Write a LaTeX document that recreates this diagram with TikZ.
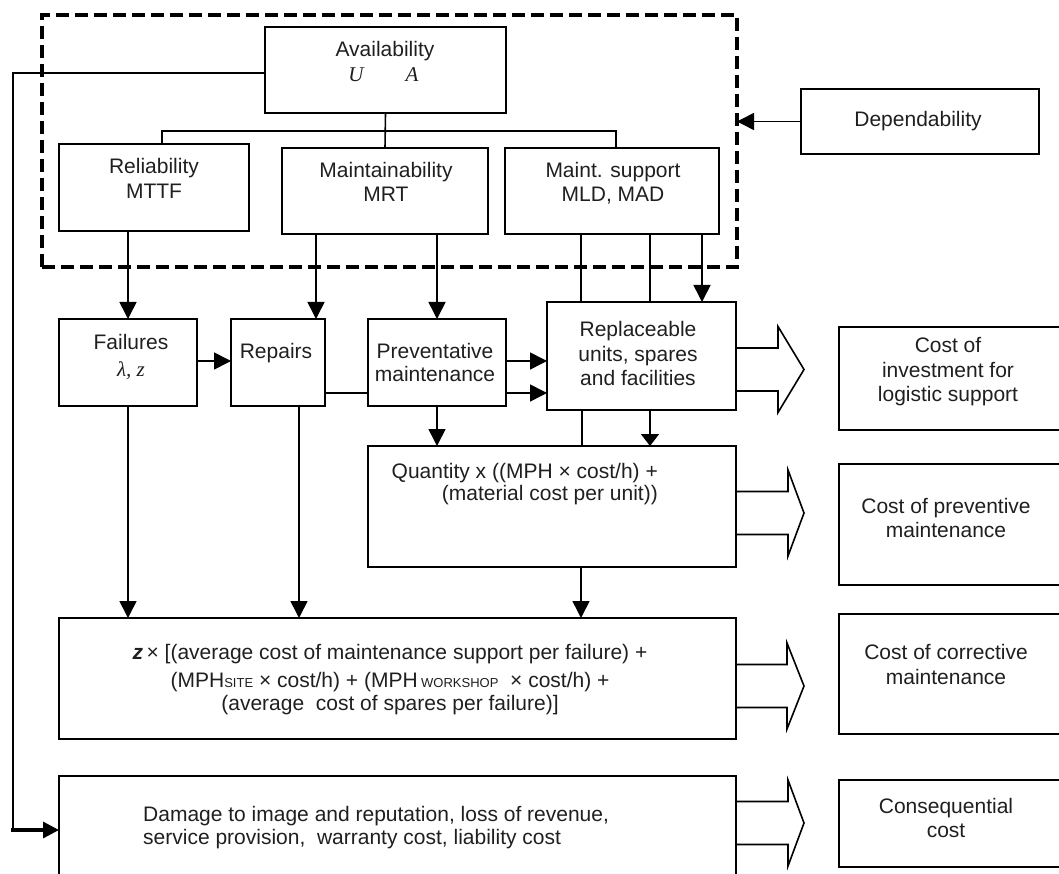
\documentclass[tikz,border=0pt]{standalone}
\usepackage{fontspec}
\setmainfont{Liberation Sans}
\newfontfamily\seriffam{Liberation Serif}
\usetikzlibrary{arrows.meta,calc}
\newcommand\subtxt[1]{{\fontsize{13}{13}\selectfont #1}}
\newcommand\bx[5]{\node[box,minimum width={#4-#2},minimum height={#5-#3}] (#1) at ({(#2+#4)/2},{(#3+#5)/2}) {};}
\newcommand\tx[4]{\node[txt,anchor=base] (#1) at (#2,#3) {#4};}
\newcommand\barrow[3]{%
  \pgfmathsetmacro\ya{#2-21.5}\pgfmathsetmacro\yb{#2+21.5}%
  \pgfmathsetmacro\yc{#2-43}\pgfmathsetmacro\yd{#2+43}%
  \draw[ln,line join=miter] (#1.east |- 0,\ya) -- (#3,\ya) -- (#3,\yc) -- (804,#2) -- (#3,\yd) -- (#3,\yb) -- (#1.east |- 0,\yb);}
\begin{document}
\begin{tikzpicture}[x=1pt,y=-1pt,
  box/.style={draw,line width=1.7pt,outer sep=0pt,inner sep=0pt},
  dbox/.style={draw,line width=3.3pt,dash pattern=on 13pt off 6pt,outer sep=0pt,inner sep=0pt},
  txt/.style={inner sep=0pt,font=\fontsize{21}{25}\selectfont,text=black!88},
  ln/.style={line width=1.6pt},
  arr/.style={-{Triangle[length=17pt,width=17pt]}},
  sarr/.style={-{Triangle[length=12pt,width=18pt]}}]
\useasboundingbox (0,0) rectangle (1059,874);
\clip (0,0) rectangle (1059,874);

% dashed frame
\node[dbox,minimum width=695,minimum height=252] (dash) at (389.5,141) {};

% boxes
\bx{avail}{265}{27}{506}{113}
\bx{rel}{59}{144}{249}{231}
\bx{mnt}{282}{148}{488}{234}
\bx{msup}{505}{148}{719}{234}
\bx{dep}{801}{89}{1039}{154}
\bx{fail}{59}{319}{197}{406}
\bx{rep}{231}{319}{325}{406}
\bx{prev}{368}{319}{506}{406}
\bx{repl}{547}{302}{736}{410}
\bx{qty}{368}{446}{736}{567}
\bx{corr}{59}{618}{736}{739}
\bx{dmg}{59}{776}{736}{900}
\bx{cinv}{839}{327}{1080}{430}
\bx{cprev}{839}{464}{1080}{585}
\bx{ccorr}{839}{614}{1080}{734}
\bx{ccons}{839}{780}{1080}{867}

% texts
\tx{t1}{385}{57}{Availability}
\tx{t2}{356}{82}{\seriffam\itshape U}
\tx{t3}{412}{82}{\seriffam\itshape A}
\tx{t4}{154}{174}{Reliability}
\tx{t5}{154}{199}{MTTF}
\tx{t6}{386}{178}{Maintainability}
\tx{t7}{386}{202}{MRT}
\tx{t8}{613}{178}{Maint. support}
\tx{t9}{613}{202}{MLD, MAD}
\tx{t10}{918}{127}{Dependability}
\tx{t11}{131}{349}{Failures}
\tx{t12}{131}{376}{\seriffam\itshape λ, z}
\tx{t13}{276}{358}{Repairs}
\tx{t14}{435}{358}{Preventative}
\tx{t15}{435}{381}{maintenance}
\tx{t16}{638}{336}{Replaceable}
\tx{t17}{638}{361}{units, spares}
\tx{t18}{638}{385}{and facilities}
\node[txt,anchor=base east] (t19) at (658,478) {Quantity x ((MPH × cost/h) +};
\node[txt,anchor=base east] (t20) at (658,500) {(material cost per unit))};
\tx{t21}{390}{659}{\textbf{\textit{z}}\,× [(average cost of maintenance support per failure) +}
\tx{t22}{390}{687}{(MPH\subtxt{SITE} × cost/h) + (MPH\,\subtxt{WORKSHOP}\ \ × cost/h) +}
\tx{t23}{390}{710}{(average\ \ cost of spares per failure)]}
\node[txt,anchor=base west] (t24) at (143,821) {Damage to image and reputation, loss of revenue,};
\node[txt,anchor=base west] (t25) at (143,844) {service provision,\ \ warranty cost, liability cost};
\tx{t26}{948}{352}{Cost of}
\tx{t27}{948}{377}{investment for}
\tx{t28}{948}{401}{logistic support}
\tx{t29}{946}{513}{Cost of preventive}
\tx{t30}{946}{537}{maintenance}
\tx{t31}{946}{659}{Cost of corrective}
\tx{t32}{946}{684}{maintenance}
\tx{t33}{946}{813}{Consequential}
\tx{t34}{946}{837}{cost}

% tree
\coordinate (jl) at (162,131);
\coordinate (jr) at (616,131);
\draw[ln] (rel.north -| jl) -- (jl) -- (jr) -- (msup.north -| jr);
\draw[ln] (avail.south) -- (mnt.north);

% dependability
\draw[ln,arr] (dep.west) -- (dep.west -| dash.east);

% feedback
\coordinate (fb1) at (13,73);
\coordinate (fb2) at (13,830);
\coordinate (fb3) at (11,830);
\draw[ln] (avail.west |- fb1) -- (fb1) -- (fb2);
\draw[line width=3.2pt,-{Triangle[length=16pt,width=16pt]}] (fb3) -- (dmg.west |- fb3);

% down connectors
\draw[ln,arr] (fail.north |- rel.south) -- (fail.north);
\draw[ln,arr] (mnt.south -| 316,0) -- (rep.north -| 316,0);
\draw[ln,arr] (mnt.south -| prev.north) -- (prev.north);
\draw[ln] (msup.south -| 581,0) -- (repl.north -| 581,0);
\draw[ln] (msup.south -| 650,0) -- (repl.north -| 650,0);
\draw[ln,arr] (msup.south -| 702,0) -- (repl.north -| 702,0);
\draw[ln] (repl.south -| 582,0) -- (qty.north -| 582,0);
\draw[ln,sarr] (repl.south -| 650,0) -- (qty.north -| 650,0);
\draw[ln,arr] (qty.south -| 581,0) -- (corr.north -| 581,0);
\draw[ln,arr] (prev.south) -- (prev.south |- qty.north);
\draw[ln,arr] (fail.south) -- (fail.south |- corr.north);
\draw[ln,arr] (rep.south -| 299,0) -- (corr.north -| 299,0);

% horizontal connectors
\draw[ln,arr] (fail.east |- 0,361) -- (rep.west |- 0,361);
\draw[ln] (rep.east |- 0,393) -- (prev.west |- 0,393);
\draw[ln,arr] (prev.east |- 0,393) -- (repl.west |- 0,393);
\draw[ln,arr] (prev.east |- 0,361) -- (repl.west |- 0,361);

% block arrows
\barrow{repl}{369.5}{778}
\barrow{qty}{513}{788}
\barrow{corr}{686}{787}
\barrow{dmg}{823}{788}
\end{tikzpicture}
\end{document}
